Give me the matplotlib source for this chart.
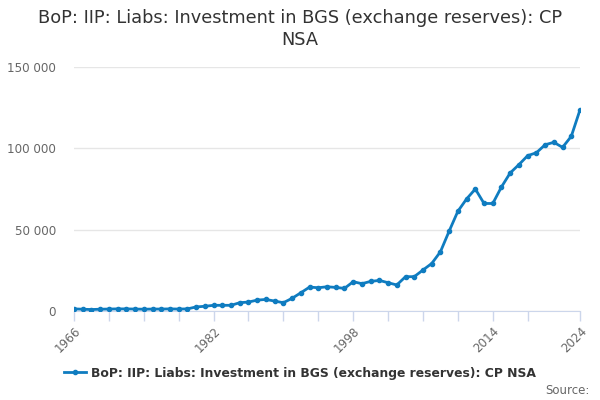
import matplotlib
matplotlib.use('Agg')
import matplotlib.pyplot as plt
import matplotlib.ticker as mticker
import numpy as np

years = list(range(1966, 2025))
values = [1300, 1100, 900, 1100, 1200, 1300, 1300, 1200, 1100, 1200,
          1200, 1300, 1200, 1300, 2500, 2900, 3500, 3500, 3500, 5100,
          5500, 6700, 7100, 6100, 5100, 7800, 11200, 14700, 14300, 14900,
          14500, 13900, 18000, 16800, 18200, 18800, 17400, 16000, 21100, 21100,
          25200, 29200, 36400, 49100, 61300, 68900, 75000, 66100, 66100, 76300,
          84900, 90000, 95500, 97300, 102200, 103700, 100600, 107400, 123700]

title = 'BoP: IIP: Liabs: Investment in BGS (exchange reserves): CP\nNSA'
series_name = 'BoP: IIP: Liabs: Investment in BGS (exchange reserves): CP NSA'
xtick_major = [1966, 1982, 1998, 2014, 2024]
xtick_all = list(range(1966, 2019, 4)) + [2024]
yticks = [0, 50000, 100000, 150000]

line_col = '#0f7cc0'
axis_col = '#ccd6eb'
text_col = '#666666'

fig = plt.figure(figsize=(6, 4), dpi=100)
ax = fig.add_axes([0.1233, 0.2225, 0.8434, 0.61])

ax.plot(years, values, color=line_col, lw=2, marker='o', ms=3, label=series_name)

ax.set_xlim(1966, 2024)
ax.set_ylim(0, 150000)
ax.set_yticks(yticks)
ax.yaxis.set_major_formatter(mticker.FuncFormatter(lambda v, p: f'{int(v):,}'.replace(',', ' ')))
ax.grid(axis='y', color='#e6e6e6', lw=1)
ax.set_axisbelow(True)

ax.set_xticks(xtick_all)
ax.set_xticklabels([str(y) if y in xtick_major else '' for y in xtick_all],
                   rotation=45, ha='right', rotation_mode='anchor')
ax.tick_params(axis='x', colors=axis_col, length=7.5, width=1, labelcolor=text_col, labelsize=8.6, pad=2)
ax.tick_params(axis='y', length=0, labelcolor=text_col, labelsize=8.6, pad=13)

for s in ['top', 'right', 'left']:
    ax.spines[s].set_visible(False)
ax.spines['bottom'].set_color(axis_col)
ax.spines['bottom'].set_zorder(0)

fig.text(0.5, 0.977, title, ha='center', va='top', fontsize=12.8, color='#333333', linespacing=1.3)

leg = fig.legend(loc='center', bbox_to_anchor=(0.5, 0.067), frameon=False,
                 prop={'size': 8.9, 'weight': 'bold'}, handlelength=1.8, handletextpad=0.4)
for t in leg.get_texts():
    t.set_color('#333333')

fig.text(0.982, 0.025, 'Source:', ha='right', va='center', fontsize=8.5, color=text_col)

fig.savefig('out.png', dpi=100)
